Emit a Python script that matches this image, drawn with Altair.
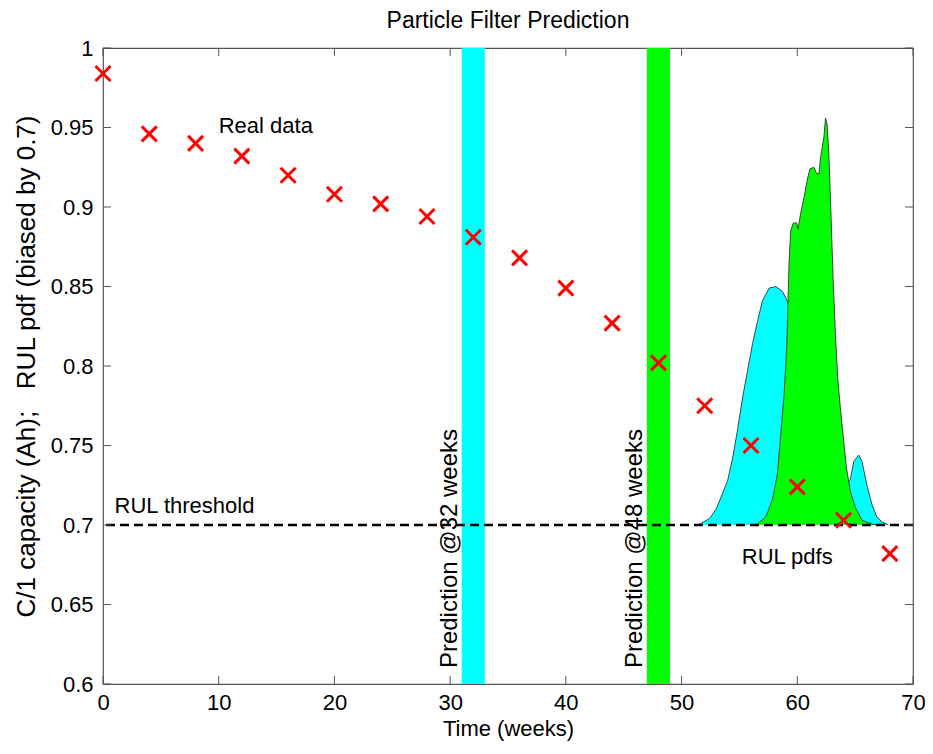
import altair as alt
import pandas as pd

# ---- data ----
weeks = [0, 4, 8, 12, 16, 20, 24, 28, 32, 36, 40, 44, 48, 52, 56, 60, 64, 68]
capacity = [0.984, 0.946, 0.940, 0.932, 0.920, 0.908, 0.902, 0.894, 0.881,
            0.868, 0.849, 0.827, 0.802, 0.775, 0.750, 0.724, 0.703, 0.682]

cyan_t = [51.40, 52.41, 52.98, 53.55, 53.98, 54.41, 54.84, 55.27, 55.70, 56.13,
          56.56, 56.99, 57.57, 58.14, 58.71, 59.14, 59.72, 60.58, 61.44, 62.30,
          63.16, 64.02, 64.59, 64.88, 65.31, 65.59, 66.02, 66.45, 66.88, 67.31, 67.88]
cyan_v = [0.700, 0.704, 0.710, 0.720, 0.728, 0.742, 0.760, 0.780, 0.797, 0.814,
          0.828, 0.841, 0.849, 0.850, 0.847, 0.841, 0.830, 0.800, 0.770, 0.745,
          0.728, 0.722, 0.729, 0.740, 0.744, 0.740, 0.725, 0.713, 0.705, 0.702, 0.700]

green_t = [56.42, 57.28, 57.85, 58.28, 58.57, 58.86, 59.09, 59.29, 59.43, 59.66,
           59.95, 60.06, 60.29, 60.58, 60.86, 61.09, 61.44, 61.67, 61.87, 62.01,
           62.30, 62.44, 62.58, 62.73, 62.92, 63.10, 63.30, 63.50, 63.73, 64.02,
           64.25, 64.59, 65.02, 65.59, 66.31, 66.88]
green_v = [0.700, 0.705, 0.716, 0.732, 0.757, 0.782, 0.812, 0.865, 0.885, 0.890,
           0.890, 0.886, 0.896, 0.906, 0.917, 0.924, 0.925, 0.921, 0.921, 0.931,
           0.944, 0.956, 0.952, 0.933, 0.894, 0.854, 0.819, 0.792, 0.773, 0.752,
           0.736, 0.721, 0.711, 0.703, 0.701, 0.700]

band_start = [31, 47]
band_end = [33, 49]
band_color = ["#00FFFF", "#00FF00"]

threshold = [0.7]

x_ticks = [0, 10, 20, 30, 40, 50, 60, 70]
y_ticks = [0.6, 0.65, 0.7, 0.75, 0.8, 0.85, 0.9, 0.95, 1.0]

notes = ["Real data", "RUL threshold", "RUL pdfs"]
notes_x = [10.0, 1.0, 55.2]
notes_y = [0.951, 0.712, 0.680]

vnotes = ["Prediction @32 weeks", "Prediction @48 weeks"]
vnotes_x = [30.0, 46.0]
vnotes_y = [0.61, 0.61]

# ---- chart ----
W, H = 810, 636
FONT = "Liberation Sans"
TICK = 8

xs = alt.Scale(domain=[0, 70], nice=False, zero=False)
ys = alt.Scale(domain=[0.6, 1.0], nice=False, zero=False)
xaxis = alt.Axis(values=x_ticks, ticks=False, domain=False, grid=False,
                 labelFontSize=22, labelFont=FONT, labelColor="black",
                 labelPadding=8, titleFontSize=22, titleFont=FONT,
                 titleFontWeight="normal", titleColor="black", titlePadding=5,
                 labelFlush=False)
yaxis = alt.Axis(values=y_ticks, ticks=False, domain=False, grid=False,
                 format=".2~f", labelFontSize=22, labelFont=FONT,
                 labelColor="black", labelPadding=10, titleFontSize=26,
                 titleFont=FONT, titleFontWeight="normal", titleColor="black",
                 titlePadding=11, labelFlush=False)
XT = "Time (weeks)"
YT = "C/1 capacity (Ah);\u00a0\u00a0\u00a0RUL pdf (biased by 0.7)"


def X(f):
    return alt.X(f, type="quantitative", scale=xs, axis=xaxis, title=XT)


def Y(f):
    return alt.Y(f, type="quantitative", scale=ys, axis=yaxis, title=YT)


bands_df = pd.DataFrame({"s": band_start, "e": band_end, "c": band_color})
bands = alt.Chart(bands_df).mark_rect().encode(
    x=X("s"), x2="e", y=alt.value(0), y2=alt.value(H),
    color=alt.Color("c:N", scale=None))

cyan_df = pd.DataFrame({"t": cyan_t, "v": cyan_v})
green_df = pd.DataFrame({"t": green_t, "v": green_v})

cyan_area = alt.Chart(cyan_df).mark_area(color="#00FFFF", opacity=1).encode(
    x=X("t"), y=Y("v"), y2=alt.Y2Datum(0.7))
cyan_line = alt.Chart(cyan_df).mark_line(color="#333333", strokeWidth=0.9).encode(
    x=X("t"), y=Y("v"))
green_area = alt.Chart(green_df).mark_area(color="#00FF00", opacity=1).encode(
    x=X("t"), y=Y("v"), y2=alt.Y2Datum(0.7))
green_line = alt.Chart(green_df).mark_line(color="#333333", strokeWidth=0.9).encode(
    x=X("t"), y=Y("v"))

thr = alt.Chart(pd.DataFrame({"y": threshold})).mark_rule(
    color="black", strokeWidth=2.5, strokeDash=[9, 5]).encode(y=Y("y"))

pts = alt.Chart(pd.DataFrame({"w": weeks, "c": capacity})).mark_point(
    shape="M-1,-1L1,1M-1,1L1,-1", filled=False, color="#FF0000",
    strokeWidth=3, size=225, opacity=1).encode(x=X("w"), y=Y("c"))

txt = alt.Chart(pd.DataFrame({"t": notes, "x": notes_x, "y": notes_y})).mark_text(
    align="left", baseline="middle", font=FONT, fontSize=22, color="black"
).encode(x=X("x"), y=Y("y"), text="t:N")

vtxt = alt.Chart(pd.DataFrame({"t": vnotes, "x": vnotes_x, "y": vnotes_y})).mark_text(
    align="left", baseline="middle", angle=270, font=FONT, fontSize=24,
    color="black").encode(x=X("x"), y=Y("y"), text="t:N")

xt_df = pd.DataFrame({"k": x_ticks})
yt_df = pd.DataFrame({"k": y_ticks})
tick_style = dict(color="#555555", strokeWidth=1)
tb = alt.Chart(xt_df).mark_rule(**tick_style).encode(
    x=X("k"), y=alt.value(H), y2=alt.value(H - TICK))
tt = alt.Chart(xt_df).mark_rule(**tick_style).encode(
    x=X("k"), y=alt.value(0), y2=alt.value(TICK))
tl = alt.Chart(yt_df).mark_rule(**tick_style).encode(
    y=Y("k"), x=alt.value(0), x2=alt.value(TICK))
tr = alt.Chart(yt_df).mark_rule(**tick_style).encode(
    y=Y("k"), x=alt.value(W), x2=alt.value(W - TICK))

chart = alt.layer(
    bands, cyan_area, cyan_line, green_area, green_line, thr,
    tb, tt, tl, tr, pts, txt, vtxt
).properties(
    width=W, height=H,
    title=alt.TitleParams("Particle Filter Prediction", fontSize=23,
                          font=FONT, fontWeight="normal", color="black",
                          offset=4),
    autosize=alt.AutoSizeParams(type="none"),
    padding={"left": 95, "top": 40, "right": 12, "bottom": 62},
).configure_view(stroke="#555555", strokeWidth=1.2)

chart.save("out.html", embed_options={"renderer": "svg", "actions": False})
